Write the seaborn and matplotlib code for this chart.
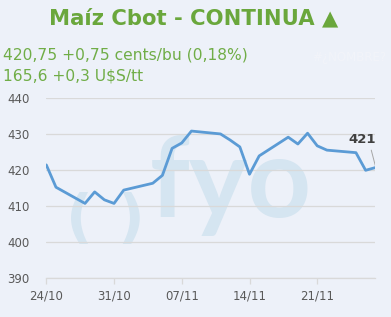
import matplotlib
matplotlib.use("Agg")
import matplotlib.pyplot as plt
import seaborn as sns
import pandas as pd

dates = ["2019-10-24", "2019-10-25", "2019-10-28", "2019-10-29", "2019-10-30",
         "2019-10-31", "2019-11-01", "2019-11-04", "2019-11-05", "2019-11-06",
         "2019-11-07", "2019-11-08", "2019-11-11", "2019-11-12", "2019-11-13",
         "2019-11-14", "2019-11-15", "2019-11-18", "2019-11-19", "2019-11-20",
         "2019-11-21", "2019-11-22", "2019-11-25", "2019-11-26", "2019-11-27"]
prices = [421.5, 415.3, 410.8, 414.0, 411.8,
          410.8, 414.5, 416.4, 418.6, 426.1,
          427.6, 430.9, 430.1, 428.4, 426.5,
          418.9, 424.0, 429.2, 427.3, 430.3,
          426.8, 425.6, 424.9, 420.0, 420.75]
tick_dates = ["2019-10-24", "2019-10-31", "2019-11-07", "2019-11-14", "2019-11-21"]
tick_labels = ["24/10", "31/10", "07/11", "14/11", "21/11"]
y_ticks = [390, 400, 410, 420, 430, 440]

title = "Maíz Cbot - CONTINUA ▲"
line1 = "420,75 +0,75 cents/bu (0,18%)"
line2 = "165,6 +0,3 U$S/tt"
last_label = "421"

W, H = 391, 317
bg = "#EDF1F9"
sns.set_theme(style="white")
plt.rcParams['font.family'] = ['DejaVu Sans']

fig = plt.figure(figsize=(W / 100, H / 100), dpi=100, facecolor=bg)
ax = fig.add_axes([46.3 / W, 1 - 278.3 / H, 329 / W, 180 / H])
ax.set_facecolor(bg)
ax.set_axisbelow(True)

def fx(px):
    return px / W

def fy(py):
    return 1 - py / H

# watermark (behind grid and line)
wm = "#D5E5F1"
ax.text(fx(150), fy(217), "fyo", fontsize=80, fontfamily="Lato", fontweight="bold",
        color=wm, ha="left", va="baseline", zorder=0.1, transform=fig.transFigure)
ax.text(fx(66), fy(237), "(", fontsize=42, fontweight="bold", color=wm,
        ha="left", va="baseline", zorder=0.1, transform=fig.transFigure)
ax.text(fx(117), fy(237), ")", fontsize=42, fontweight="bold", color=wm,
        ha="left", va="baseline", zorder=0.1, transform=fig.transFigure)

df = pd.DataFrame({"date": pd.to_datetime(dates), "price": prices})
sns.lineplot(data=df, x="date", y="price", ax=ax, color="#5B9BD5", linewidth=2.0, zorder=3)

ax.set_xlim(pd.Timestamp(dates[0]), pd.Timestamp(dates[-1]))
ax.set_ylim(390, 440)
ax.set_yticks(y_ticks)
ax.set_xticks(pd.to_datetime(tick_dates))
ax.set_xticklabels(tick_labels)
ax.set_xlabel("")
ax.set_ylabel("")
ax.grid(axis="y", color="#D9D9D9", linewidth=0.9)
ax.grid(axis="x", visible=False)
for s in ["top", "right", "left"]:
    ax.spines[s].set_visible(False)
ax.spines["bottom"].set_color("#D9D9D9")
ax.spines["bottom"].set_linewidth(0.9)
ax.tick_params(axis="x", colors="#D9D9D9", length=4, width=0.9, direction="out",
               labelcolor="#595959", labelsize=8.5, pad=4, bottom=True)
ax.tick_params(axis="y", length=0, labelcolor="#595959", labelsize=8.5, pad=12)

# last value annotation
fig.text(fx(362), fy(140), last_label, fontsize=9.5, fontweight="bold", color="#404040",
         ha="center", va="center")
ax.plot([pd.Timestamp("2019-11-26 14:00"), pd.Timestamp(dates[-1])], [425.6, 421.3],
        color="#A6A6A6", lw=0.7, zorder=4)

# titles
fig.text(0.495, fy(18), title, fontsize=15.2, fontweight="bold", color="#6AA73C",
         ha="center", va="center")
fig.text(fx(3), fy(55), line1, fontsize=11.2, color="#70AD47", ha="left", va="center")
fig.text(fx(3), fy(76), line2, fontsize=11.2, color="#70AD47", ha="left", va="center")
fig.text(fx(386), fy(57), "#¿NOMBRE?", fontsize=8.5, color="#F2F4FA", ha="right", va="center")

fig.savefig("out.png", dpi=100, facecolor=bg)
